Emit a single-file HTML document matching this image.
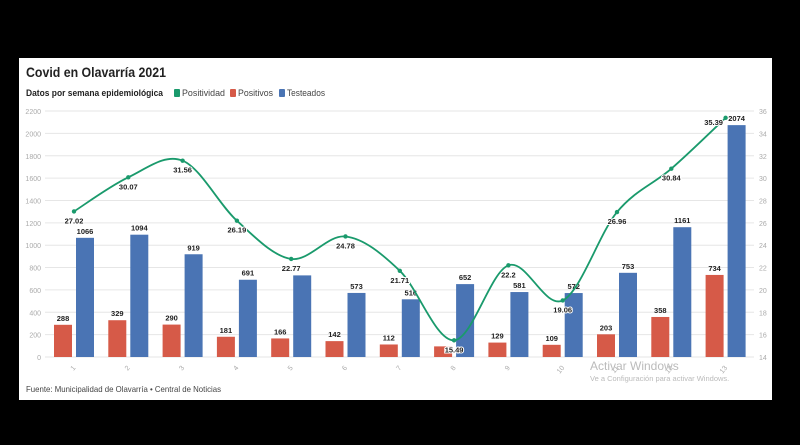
<!DOCTYPE html>
<html><head><meta charset="utf-8"><style>
html,body{margin:0;padding:0;background:#000;width:800px;height:445px;overflow:hidden}
svg{display:block;font-family:"Liberation Sans",sans-serif}
</style></head><body>
<svg id="s" width="800" height="445" xmlns="http://www.w3.org/2000/svg">
<rect x="19" y="58" width="753" height="342" fill="#fff"/>
<text x="26" y="77" font-size="14" font-weight="bold" fill="#222" textLength="140" lengthAdjust="spacingAndGlyphs">Covid en Olavarría 2021</text>
<text x="26" y="96" font-size="9" font-weight="bold" fill="#222" textLength="137" lengthAdjust="spacingAndGlyphs">Datos por semana epidemiológica</text>
<rect x="174" y="89" width="6" height="8" fill="#1a9a6c" rx="1"/>
<text x="182" y="96" font-size="9.5" fill="#444" textLength="43" lengthAdjust="spacingAndGlyphs">Positividad</text>
<rect x="230" y="89" width="6" height="8" fill="#d65a48" rx="1"/>
<text x="238" y="96" font-size="9.5" fill="#444" textLength="35" lengthAdjust="spacingAndGlyphs">Positivos</text>
<rect x="279" y="89" width="6" height="8" fill="#4a74b4" rx="1"/>
<text x="287" y="96" font-size="9.5" fill="#444" textLength="38" lengthAdjust="spacingAndGlyphs">Testeados</text>
<g id="g"></g>
<text x="26" y="392" font-size="8.5" fill="#444" textLength="195" lengthAdjust="spacingAndGlyphs">Fuente: Municipalidad de Olavarría • Central de Noticias</text>
<text x="590" y="370" font-size="12" fill="#bbb">Activar Windows</text>
<text x="590" y="381" font-size="7.5" fill="#bbb">Ve a Configuración para activar Windows.</text>
</svg>
<script>
var g=document.getElementById('g'),h='';
function by(n){return 357-n*0.1118}
function ty(v){return 357-(v-14)*11.18}
for(var i=0;i<=11;i++){var y=357-i*22.36;h+='<line x1="45" x2="754" y1="'+y+'" y2="'+y+'" stroke="#e6e6e6" stroke-width="1"/>';
h+='<text x="41" y="'+(y+3)+'" font-size="7" fill="#aaa" text-anchor="end">'+(i*200)+'</text>';
h+='<text x="759" y="'+(y+3)+'" font-size="7" fill="#aaa">'+(14+i*2)+'</text>';}
var P=[288,329,290,181,166,142,112,95,129,109,203,358,734],PL=[288,329,290,181,166,142,112,'',129,109,203,358,734];
var T=[1066,1094,919,691,730,573,516,652,581,572,753,1161,2074],TL=[1066,1094,919,691,'',573,516,652,581,572,753,1161,2074];
var L=[27.02,30.07,31.56,26.19,22.77,24.78,21.71,15.49,22.2,19.06,26.96,30.84,35.39];
var pts=[];
for(var i=0;i<13;i++){var c=74+54.3*i;
var py=by(P[i]),tyy=by(T[i]);
h+='<rect x="'+(c-20)+'" y="'+py+'" width="18" height="'+(357-py)+'" fill="#d65a48"/>';
h+='<rect x="'+(c+2)+'" y="'+tyy+'" width="18" height="'+(357-tyy)+'" fill="#4a74b4"/>';
if(PL[i]!=='')h+='<text x="'+(c-11)+'" y="'+(py-4)+'" font-size="7.5" font-weight="bold" fill="#222" text-anchor="middle">'+PL[i]+'</text>';
if(TL[i]!=='')h+='<text x="'+(c+11)+'" y="'+(tyy-4)+'" font-size="7.5" font-weight="bold" fill="#222" text-anchor="middle">'+TL[i]+'</text>';
h+='<text transform="translate('+(c+2)+',368) rotate(-50)" font-size="7" fill="#aaa" text-anchor="end">'+(i+1)+'</text>';
pts.push([c,ty(L[i])]);}
var d='M'+pts[0][0]+','+pts[0][1];
for(var i=0;i<12;i++){var p0=pts[Math.max(i-1,0)],p1=pts[i],p2=pts[i+1],p3=pts[Math.min(i+2,12)];
var c1x=p1[0]+(p2[0]-p0[0])/6,c1y=p1[1]+(p2[1]-p0[1])/6,c2x=p2[0]-(p3[0]-p1[0])/6,c2y=p2[1]-(p3[1]-p1[1])/6;
d+=' C'+c1x+','+c1y+' '+c2x+','+c2y+' '+p2[0]+','+p2[1];}
h+='<path d="'+d+'" fill="none" stroke="#1a9a6c" stroke-width="1.8"/>';
for(var i=0;i<13;i++){h+='<circle cx="'+pts[i][0]+'" cy="'+pts[i][1]+'" r="2.2" fill="#1a9a6c"/>';
var lx=pts[i][0],ly=pts[i][1]+12;if(i==12){lx-=12;ly=pts[i][1]+7;}
h+='<text x="'+lx+'" y="'+ly+'" font-size="7.5" font-weight="bold" fill="#222" text-anchor="middle" stroke="#fff" stroke-width="2" paint-order="stroke">'+L[i]+'</text>';}
g.innerHTML=h;
</script>
</body></html>
